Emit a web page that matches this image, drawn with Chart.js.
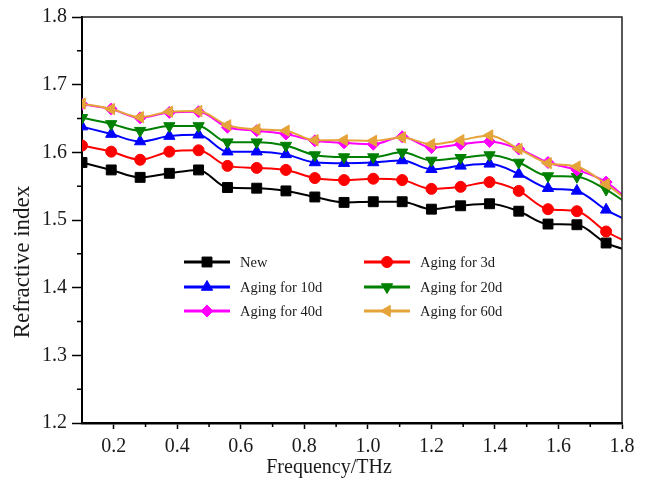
<!DOCTYPE html>
<html><head><meta charset="utf-8">
<script src="https://cdn.jsdelivr.net/npm/chart.js@4.4.1/dist/chart.umd.min.js"></script>
<style>html,body{margin:0;padding:0;background:#fff;}#wrap{width:654px;height:480px;}</style>
</head><body><div id="wrap"><canvas id="c" width="654" height="480"></canvas></div>
<script>
// ---- data ----
const frequencies = [0.100, 0.192, 0.283, 0.375, 0.467, 0.558, 0.650, 0.742, 0.833, 0.925,
                     1.017, 1.108, 1.200, 1.292, 1.383, 1.475, 1.567, 1.658, 1.750, 1.842];
const seriesNames = ['New', 'Aging for 3d', 'Aging for 10d', 'Aging for 20d', 'Aging for 40d', 'Aging for 60d'];
const valuesNew  = [1.585,1.574,1.563,1.569,1.574,1.548,1.547,1.543,1.534,1.526,1.527,1.527,1.516,1.521,1.524,1.513,1.494,1.493,1.466,1.452];
const values3d   = [1.610,1.601,1.589,1.601,1.603,1.580,1.577,1.574,1.562,1.559,1.561,1.559,1.546,1.549,1.556,1.543,1.516,1.513,1.483,1.462];
const values10d  = [1.638,1.627,1.616,1.624,1.626,1.601,1.601,1.597,1.585,1.584,1.585,1.588,1.575,1.580,1.583,1.568,1.547,1.543,1.515,1.494];
const values20d  = [1.651,1.642,1.632,1.639,1.639,1.615,1.615,1.610,1.596,1.593,1.593,1.600,1.588,1.592,1.596,1.585,1.565,1.564,1.545,1.516];
const values40d  = [1.671,1.664,1.651,1.659,1.660,1.637,1.632,1.627,1.617,1.614,1.612,1.623,1.607,1.612,1.616,1.605,1.585,1.574,1.556,1.520];
const values60d  = [1.672,1.664,1.652,1.660,1.661,1.640,1.634,1.632,1.618,1.618,1.617,1.622,1.612,1.618,1.625,1.605,1.584,1.579,1.553,1.520];
const xTickValues = [0.2, 0.4, 0.6, 0.8, 1.0, 1.2, 1.4, 1.6, 1.8];
const xMinorValues = [0.3, 0.5, 0.7, 0.9, 1.1, 1.3, 1.5, 1.7];
const yTickValues = [1.2, 1.3, 1.4, 1.5, 1.6, 1.7, 1.8];
const yMinorValues = [1.25, 1.35, 1.45, 1.55, 1.65, 1.75];
const xTitle = 'Frequency/THz';
const yTitle = 'Refractive index';

// ---- styles ----
const allValues = [valuesNew, values3d, values10d, values20d, values40d, values60d];
const colors = ['#000000', '#ff0000', '#0000ff', '#008000', '#ff00ff', '#e5a43a'];
const pStyles = ['rect', 'circle', 'triangle', 'triangle', 'rectRot', 'triangle'];
const pRot = [0, 0, 0, 180, 0, -90];
const pRad = [7, 5.5, 6.5, 6.5, 6, 6.5];

const datasets = allValues.map((vals, i) => ({
  label: seriesNames[i],
  data: frequencies.map((f, k) => ({x: f, y: vals[k]})),
  borderColor: colors[i],
  backgroundColor: colors[i],
  pointBackgroundColor: colors[i],
  pointBorderColor: colors[i],
  pointStyle: pStyles[i],
  pointRotation: pRot[i],
  pointRadius: pRad[i],
  pointBorderWidth: 1,
  borderWidth: 2,
  cubicInterpolationMode: 'monotone',
  order: 6 - i
}));

const serif = '"Liberation Serif", "Times New Roman", serif';

const decorPlugin = {
  id: 'decor',
  afterDraw(chart) {
    const ctx = chart.ctx, a = chart.chartArea;
    const xs = chart.scales.x, ys = chart.scales.y;
    ctx.save();
    // frame top & right
    ctx.strokeStyle = '#222';
    ctx.lineWidth = 1.5;
    ctx.beginPath();
    ctx.moveTo(a.left, a.top); ctx.lineTo(a.right, a.top); ctx.lineTo(a.right, a.bottom);
    ctx.stroke();
    // minor ticks
    ctx.strokeStyle = '#000';
    ctx.lineWidth = 1.5;
    ctx.beginPath();
    xMinorValues.forEach(v => { const px = xs.getPixelForValue(v); ctx.moveTo(px, a.bottom); ctx.lineTo(px, a.bottom + 4); });
    yMinorValues.forEach(v => { const py = ys.getPixelForValue(v); ctx.moveTo(a.left, py); ctx.lineTo(a.left - 5, py); });
    ctx.stroke();
    // axis titles
    ctx.fillStyle = '#1a1a1a';
    ctx.font = '20px ' + serif;
    ctx.textAlign = 'center';
    ctx.textBaseline = 'middle';
    ctx.fillText(xTitle, 329, 468);
    ctx.translate(23, 262);
    ctx.rotate(-Math.PI / 2);
    ctx.font = '23px ' + serif;
    ctx.fillText(yTitle, 0, 0);
    ctx.restore();
  },
  afterDatasetsDraw(chart) {
    const ctx = chart.ctx;
    const colX = [184, 364];
    const rowY = [262, 287, 311];
    const lineLen = 46;
    chart.data.datasets.forEach((ds, i) => {
      const x0 = colX[i % 2], y = rowY[Math.floor(i / 2)];
      ctx.save();
      ctx.strokeStyle = ds.borderColor;
      ctx.fillStyle = ds.borderColor;
      ctx.lineWidth = 3;
      ctx.beginPath(); ctx.moveTo(x0, y); ctx.lineTo(x0 + lineLen, y); ctx.stroke();
      ctx.lineWidth = 1;
      Chart.helpers.drawPoint(ctx, {pointStyle: ds.pointStyle, rotation: ds.pointRotation, radius: ds.pointRadius, borderWidth: 1}, x0 + lineLen / 2, y);
      ctx.fillStyle = '#1a1a1a';
      ctx.font = '14.5px ' + serif;
      ctx.textAlign = 'left';
      ctx.textBaseline = 'middle';
      ctx.fillText(ds.label, x0 + 56, y + 1);
      ctx.restore();
    });
  }
};

new Chart(document.getElementById('c'), {
  type: 'line',
  data: { datasets },
  options: {
    responsive: false,
    animation: false,
    devicePixelRatio: 1,
    layout: { padding: { left: 0, right: 32, top: 16, bottom: 0 } },
    plugins: { legend: { display: false }, tooltip: { enabled: false } },
    scales: {
      x: {
        type: 'linear', min: 0.1, max: 1.8,
        afterBuildTicks: s => { s.ticks = xTickValues.map(v => ({value: v})); },
        afterFit: s => { s.height = 57; },
        grid: { drawOnChartArea: false, drawTicks: true, tickLength: 6, tickWidth: 1.5, tickColor: '#000' },
        border: { display: true, color: '#000', width: 2.5 },
        ticks: { padding: 6, color: '#1a1a1a', font: { family: serif, size: 20 }, callback: v => Number(v).toFixed(1), maxRotation: 0, autoSkip: false },
        title: { display: false }
      },
      y: {
        type: 'linear', min: 1.2, max: 1.8,
        afterBuildTicks: s => { s.ticks = yTickValues.map(v => ({value: v})); },
        afterFit: s => { s.width = 82; },
        grid: { drawOnChartArea: false, drawTicks: true, tickLength: 10, tickWidth: 1.5, tickColor: '#000' },
        border: { display: true, color: '#000', width: 2 },
        ticks: { padding: 5, color: '#1a1a1a', font: { family: serif, size: 20 }, callback: v => Number(v).toFixed(1), autoSkip: false },
        title: { display: false }
      }
    }
  },
  plugins: [decorPlugin]
});
</script>
</body></html>
